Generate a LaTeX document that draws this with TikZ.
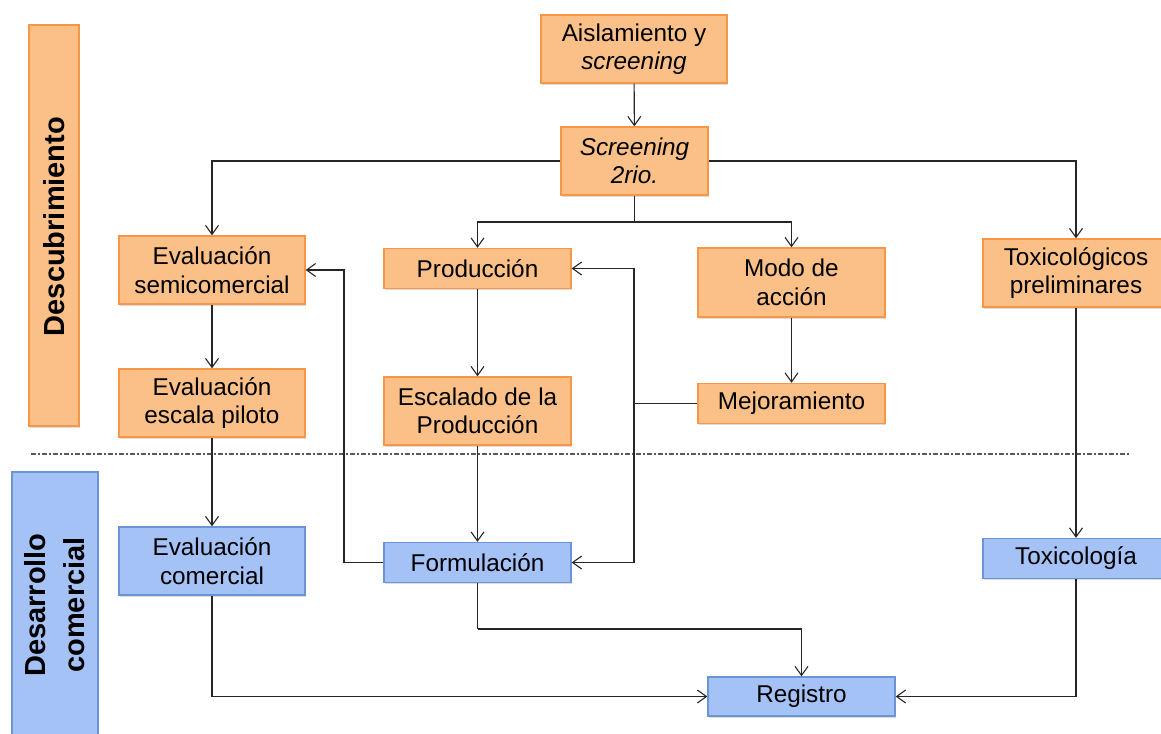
\documentclass[tikz,border=0pt]{standalone}
\usepackage{fontspec}
\setmainfont{Liberation Sans}
\usetikzlibrary{arrows.meta,shadows,calc}

\definecolor{orfill}{HTML}{FBBF88}
\definecolor{ordraw}{HTML}{F79646}
\definecolor{blfill}{HTML}{A4C2F6}
\definecolor{bldraw}{HTML}{6A94D4}

\tikzset{
  boxshadow/.style={drop shadow={shadow xshift=1.2pt,shadow yshift=-1.8pt,opacity=.28}},
  stage/.style={draw=ordraw,fill=orfill,line width=1.4pt,boxshadow,
    minimum width=186pt,minimum height=68pt,inner sep=0pt,align=center,
    font=\fontsize{24.3}{28.5}\selectfont},
  stagebl/.style={stage,draw=bldraw,fill=blfill},
  slim/.style={minimum height=40pt},
  band/.style={line width=1.4pt,boxshadow,inner sep=0pt},
  link/.style={line width=1.1pt,draw=black!85},
  arr/.style={link,-{Straight Barb[length=9pt,width=13pt,line width=1.1pt]}},
  sep/.style={line width=1.2pt,draw=black!65,dash pattern=on 4.5pt off 2.5pt on 1.5pt off 2.5pt}
}

\begin{document}
\begin{tikzpicture}[x=1pt,y=-1pt]
\useasboundingbox (0,0) rectangle (1161,733);

% phase bands on the left
\node[band,draw=ordraw,fill=orfill,minimum width=50pt,minimum height=401pt] (bdesc) at (54,225.5) {};
\node[rotate=90,font=\bfseries\fontsize{29}{34}\selectfont] (ldesc) at (54,226.5) {Descubrimiento};
\node[band,draw=bldraw,fill=blfill,minimum width=86pt,minimum height=300pt] (bdev) at (55,622) {};
\node[rotate=90,align=center,font=\bfseries\fontsize{29}{39}\selectfont] (ldev) at (55,605) {Desarrollo\\comercial};

% boundary between the two phases
\coordinate (sepa) at (31,454);
\coordinate (sepb) at (1129,454);
\draw[sep] (sepa) -- (sepb);

% discovery stages
\node[stage] (ais) at (634,49) {Aislamiento y\\\textit{screening}};
\node[stage,minimum width=147pt] (scr) at (634.5,161) {\textit{Screening}\\\textit{2rio.}};
\node[stage] (semi) at (212,270) {Evaluación\\semicomercial};
\node[stage] (pil) at (212,403) {Evaluación\\escala piloto};
\node[stage,slim,minimum width=187pt] (prod) at (477.5,268.5) {Producción};
\node[stage,minimum width=187pt] (esc) at (477.5,411) {Escalado de la\\Producción};
\node[stage,minimum width=187pt,minimum height=69pt] (modo) at (791.5,282.5) {Modo de\\acción};
\node[stage,slim,minimum width=187pt] (mej) at (791.5,403.5) {Mejoramiento};
\node[stage] (toxp) at (1076,273) {Toxicológicos\\preliminares};

% commercial development stages
\node[stagebl] (com) at (212,561) {Evaluación\\comercial};
\node[stagebl,slim,minimum width=187pt] (form) at (477.5,562.5) {Formulación};
\node[stagebl,slim] (toxi) at (1076,558.5) {Toxicología};
\node[stagebl,slim,minimum width=187pt,minimum height=39pt] (reg) at (801.5,696.5) {Registro};

% helper points for the routed connectors
\coordinate (split) at (634.5,222);
\coordinate (hub) at (634,403.5);
\coordinate (back) at (344,562.5);
\coordinate (fturn) at (477.5,629);

% connectors
\draw[arr] (ais) -- (scr);
\draw[arr] (scr.west) -| (semi.north);
\draw[arr] (scr.east) -| (toxp.north);
\draw[link,line width=1.8pt] (scr.south) -- (split);
\draw[arr] (split) -| (prod.north);
\draw[arr] (split) -| (modo.north);
\draw[arr] (semi) -- (pil);
\draw[arr] (pil) -- (com);
\draw[arr] (prod) -- (esc);
\draw[arr] (esc) -- (form);
\draw[arr] (modo) -- (mej);
\draw[link] (mej.west) -- (hub);
\draw[arr] (hub) |- (prod.east);
\draw[arr] (hub) |- (form.east);
\draw[link] (form.west) -- (back);
\draw[arr] (back) |- (semi.east);
\draw[arr] (com.south) |- (reg.west);
\draw[link] (form.south) -- (fturn);
\draw[arr] (fturn) -| (reg.north);
\draw[arr] (toxp) -- (toxi);
\draw[arr] (toxi.south) |- (reg.east);
\end{tikzpicture}
\end{document}
